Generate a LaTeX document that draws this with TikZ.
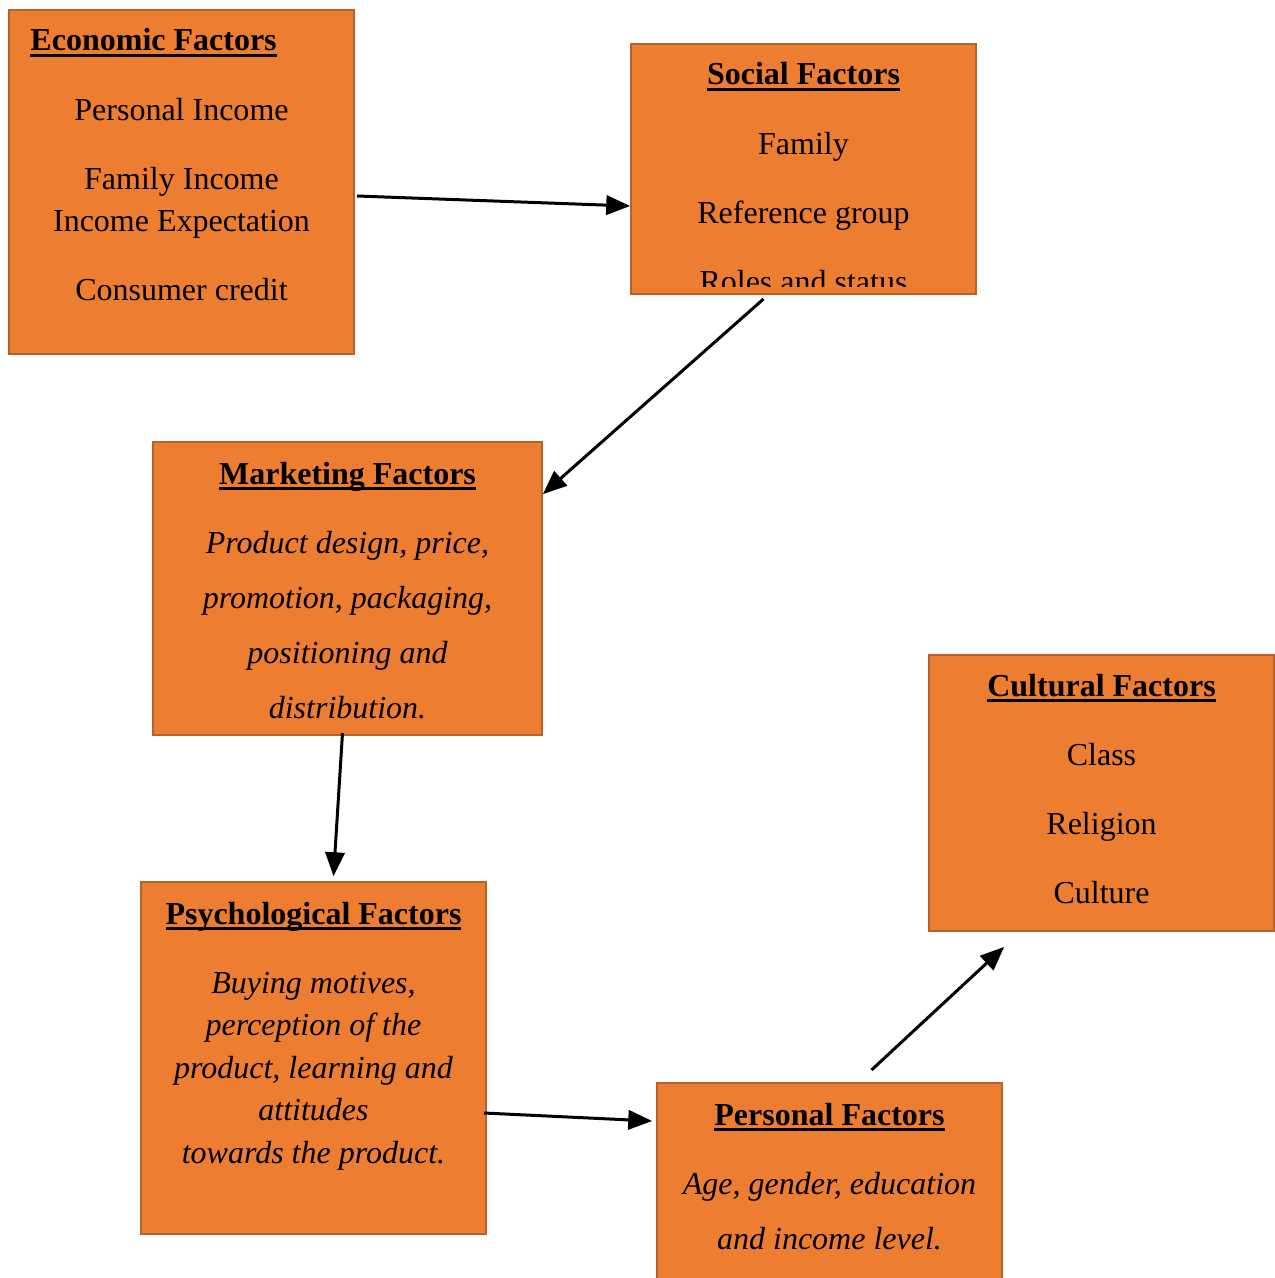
\documentclass[tikz,border=0pt]{standalone}
\usepackage{fontspec}
\setmainfont{Liberation Serif}
\usetikzlibrary{arrows,calc}
\definecolor{factorfill}{HTML}{ED7D31}
\definecolor{factorline}{HTML}{B5622B}
\newcommand{\headline}[1]{\setbox0\hbox{#1}\rlap{\vrule width\wd0 height -1.3pt depth 2.5pt}\box0}

\begin{document}
\begin{tikzpicture}[>=triangle 45, x=0.4pt, y=-0.4pt,
  factor/.style={draw=factorline, fill=factorfill, line width=0.8pt,
    anchor=north west, inner sep=0pt, minimum width=138pt},
  heading/.style={anchor=base, inner sep=0pt, font=\fontsize{12.8}{17}\selectfont\bfseries},
  body/.style={anchor=north, inner sep=0pt, align=center, font=\fontsize{12.8}{17}\selectfont},
  link/.style={->, line width=1.2pt}]
\useasboundingbox (0,0) rectangle (1274,1278);

% economic
\node[factor, minimum height=137.6pt] (eco) at (8,9) {};
\node[heading, anchor=base west] (ecot) at ($(eco.north west)+(22,42)$) {\headline{Economic Factors}};
\node[body] (ecob) at ($(eco.north |- ecot.base)+(0,39)$)
  {\strut Personal Income\\[10.6pt] Family Income\\ Income Expectation\\[10.6pt] Consumer credit};

% social
\node[factor, minimum height=100pt] (soc) at (630,43) {};
\node[heading] (soct) at ($(soc.north)+(0,42)$) {\headline{Social Factors}};
\begin{scope}
\clip ($(soc.south west)+(0,-9)$) rectangle (soc.north east);
\node[body] (socb) at ($(soct.base)+(0,39)$)
  {\strut Family\\[10.6pt] Reference group\\[10.6pt] Roles and status};
\end{scope}

% marketing
\node[factor, minimum width=155.6pt, minimum height=117.2pt] (mkt) at (152,441) {};
\node[heading] (mktt) at ($(mkt.north)+(0,43)$) {\headline{Marketing Factors}};
\node[body, font=\fontsize{12.8}{17}\selectfont\itshape] (mktb) at ($(mktt.base)+(0,39)$)
  {\strut Product design, price,\\[5pt] promotion, packaging,\\[5pt] positioning and\\[5pt] distribution.};

% psychological
\node[factor, minimum height=140.8pt] (psy) at (140,881) {};
\node[heading] (psyt) at ($(psy.north)+(0,43)$) {\headline{Psychological Factors}};
\node[body, font=\fontsize{12.8}{17}\selectfont\itshape] (psyb) at ($(psyt.base)+(0,39)$)
  {\strut Buying motives,\\ perception of the\\ product, learning and\\ attitudes\\ towards the product.};

% personal
\node[factor, minimum height=90pt] (per) at (656,1082) {};
\node[heading] (pert) at ($(per.north)+(0,43)$) {\headline{Personal Factors}};
\node[body, font=\fontsize{12.8}{17}\selectfont\itshape] (perb) at ($(pert.base)+(0,39)$)
  {\strut Age, gender, education\\[5pt] and income level.};

% cultural
\node[factor, minimum height=110.4pt] (cul) at (928,654) {};
\node[heading] (cult) at ($(cul.north)+(0,42)$) {\headline{Cultural Factors}};
\node[body] (culb) at ($(cult.base)+(0,39)$)
  {\strut Class\\[10.6pt] Religion\\[10.6pt] Culture};

% arrows
\draw[link] ($(eco.east)+(2,14)$) -- ($(soc.west)+(0,37)$);
\draw[link] ($(soc.south)+(-40,4)$) -- ($(mkt.north east)+(0,53)$);
\draw[link] ($(mkt.south)+(-5,-3)$) -- ($(psy.north)+(20,-5)$);
\draw[link] ($(psy.east)+(-3,55)$) -- ($(per.north west)+(-4,39)$);
\draw[link] ($(per.north)+(42,-12)$) -- ($(cul.south west)+(76,15)$);
\end{tikzpicture}
\end{document}
